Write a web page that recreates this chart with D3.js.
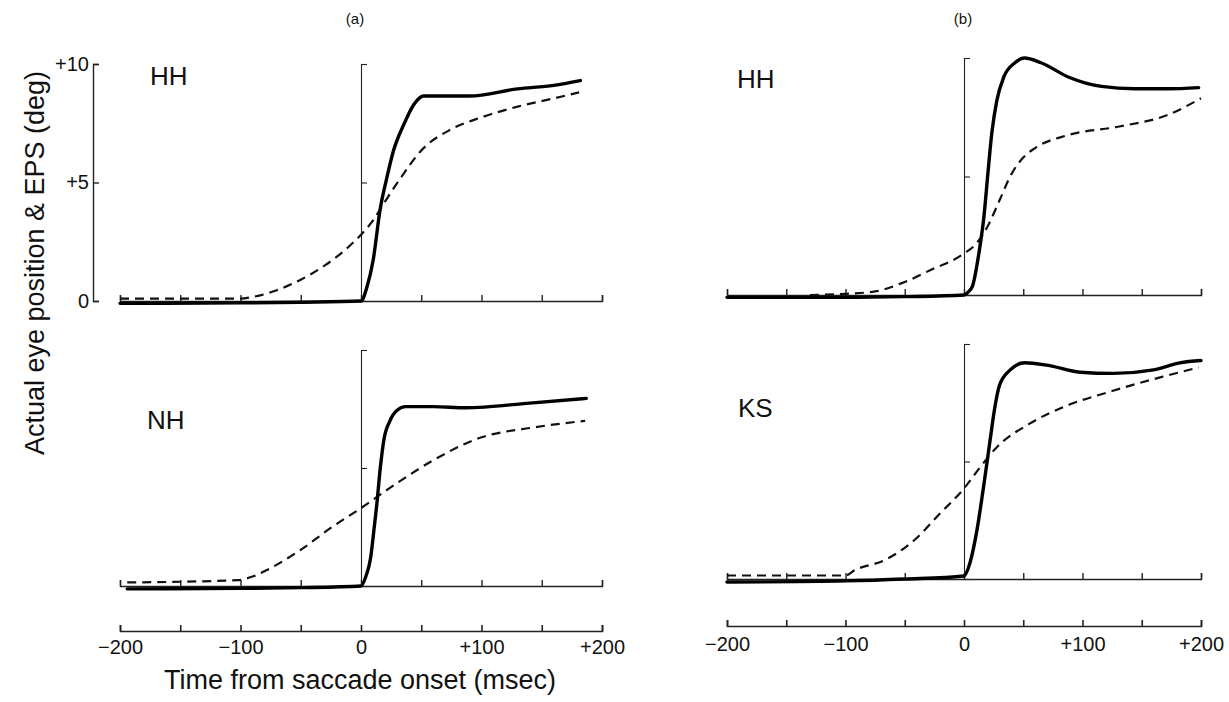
<!DOCTYPE html>
<html>
<head>
<meta charset="utf-8">
<script src="https://cdn.jsdelivr.net/npm/d3@7"></script>
<style>
  body { margin: 0; background: #fff; }
  text { font-family: "Liberation Sans", Arial, Helvetica, sans-serif; fill: #111; }
</style>
</head>
<body>
<div id="chart"></div>
<script>
// time (msec) / position (deg) pairs
var aHHSolid = [[-200,-0.1],[-100,-0.08],[-50,-0.05],[0,0],[5,0.6],[10,1.7],[16,3.9],[21,5.1],[27,6.35],[36,7.5],[44,8.3],[52,8.65],[70,8.65],[90,8.65],[130,8.95],[160,9.1],[182,9.3]];
var aHHDash  = [[-200,0.1],[-100,0.1],[-90,0.17],[-70,0.45],[-50,0.9],[-30,1.5],[-10,2.3],[0,2.8],[10,3.4],[20,4.2],[33,5.2],[50,6.35],[75,7.25],[100,7.75],[130,8.2],[160,8.55],[181,8.8]];
var aNHSolid = [[-194,-0.12],[-100,-0.1],[-50,-0.07],[0,0],[4,0.4],[8,1.2],[11,2.5],[13,3.4],[16,5.0],[19,6.2],[24,7.0],[30,7.45],[37,7.6],[60,7.6],[87,7.55],[140,7.75],[187,7.95]];
var aNHDash  = [[-194,0.15],[-102,0.25],[-90,0.4],[-78,0.68],[-51,1.5],[-24,2.5],[0,3.3],[31,4.4],[59,5.3],[100,6.3],[141,6.7],[186,7.0]];
var bHHSolid = [[-200,-0.1],[-100,-0.1],[-50,-0.07],[0,0],[3,0.1],[7,0.35],[12.6,1.77],[16.8,3.3],[20.2,5.15],[23.5,6.85],[27.7,8.2],[33.6,9.2],[43,9.8],[51,10.0],[65,9.8],[88,9.2],[116,8.8],[144,8.7],[172,8.7],[198,8.75]];
var bHHDash  = [[-130,0],[-100,0.05],[-75,0.15],[-50,0.55],[-24,1.15],[-10,1.45],[0,1.75],[10,2.15],[20,2.9],[30,4.0],[40,5.1],[50,5.8],[60,6.2],[88,6.75],[130,7.1],[172,7.6],[200,8.3]];
var bKSSolid = [[-200,-0.13],[-100,-0.08],[-50,0],[0,0.13],[5,0.68],[11,2.1],[17,4.1],[22,5.9],[26,7.3],[30,8.25],[39,8.9],[51,9.2],[70,9.1],[98,8.8],[126,8.75],[160,8.9],[182,9.2],[200,9.3]];
var bKSDash  = [[-200,0.15],[-100,0.15],[-92,0.38],[-67,0.8],[-42,1.65],[-20,2.8],[0,3.85],[13.5,4.75],[27.5,5.6],[55,6.6],[83,7.3],[125,8.0],[167,8.6],[198,9.0]];

var timeTicks = [-200,-150,-100,-50,0,50,100,150,200];
var degTicks = [0,5,10];
var subjects = ["HH","NH","HH","KS"];
var columnTitles = ["(a)","(b)"];

var width = 1229, height = 702;

var svg = d3.select("#chart").append("svg")
    .attr("width", width)
    .attr("height", height);

svg.append("rect").attr("width", width).attr("height", height).attr("fill", "#fff");

var xA = d3.scaleLinear().domain([-200, 200]).range([120, 602]);
var xB = d3.scaleLinear().domain([-200, 200]).range([727, 1201]);

var panels = [
  {x: xA, y: d3.scaleLinear().domain([0, 10]).range([301, 64]), solid: aHHSolid, dash: aHHDash, name: subjects[0], lx: 150, ly: 85},
  {x: xA, y: d3.scaleLinear().domain([0, 10]).range([586, 350]), solid: aNHSolid, dash: aNHDash, name: subjects[1], lx: 147, ly: 429},
  {x: xB, y: d3.scaleLinear().domain([0, 10]).range([295, 58]), solid: bHHSolid, dash: bHHDash, name: subjects[2], lx: 737, ly: 88},
  {x: xB, y: d3.scaleLinear().domain([0, 10]).range([579, 344]), solid: bKSSolid, dash: bKSDash, name: subjects[3], lx: 738, ly: 417}
];

function fmtTime(t) {
  if (t === 0) return "0";
  if (t % 100 !== 0) return "";
  return (t > 0 ? "+" : "\u2212") + Math.abs(t);
}

function styleAxis(g, w) {
  g.selectAll("path, line").attr("stroke", "#222").attr("stroke-width", w);
  g.selectAll("text").remove();
}

panels.forEach(function(p) {
  var g = svg.append("g");

  // baseline with upward ticks
  g.append("g")
    .attr("transform", "translate(0," + p.y(0) + ")")
    .call(d3.axisTop(p.x).tickValues(timeTicks).tickSize(6).tickSizeOuter(6).tickFormat(""))
    .call(styleAxis, 1.4);

  // vertical marker at saccade onset
  g.append("g")
    .attr("transform", "translate(" + p.x(0) + ",0)")
    .call(d3.axisRight(p.y).tickValues(degTicks).tickSize(6).tickSizeOuter(6).tickFormat(""))
    .call(styleAxis, 1.1);

  var line = d3.line()
    .x(function(d) { return p.x(d[0]); })
    .y(function(d) { return p.y(d[1]); })
    .curve(d3.curveMonotoneX);

  g.append("path")
    .attr("d", line(p.dash))
    .attr("fill", "none")
    .attr("stroke", "#111")
    .attr("stroke-width", 2.2)
    .attr("stroke-dasharray", "9,6");

  g.append("path")
    .attr("d", line(p.solid))
    .attr("fill", "none")
    .attr("stroke", "#000")
    .attr("stroke-width", 3.4)
    .attr("stroke-linecap", "round");

  g.append("text")
    .attr("x", p.lx)
    .attr("y", p.ly)
    .attr("font-size", 26)
    .text(p.name);
});

// left deg axis on panel (a) top
var yLeft = panels[0].y;
var left = svg.append("g")
  .attr("transform", "translate(93,0)")
  .call(d3.axisLeft(yLeft).tickValues(degTicks).tickSize(-6).tickSizeOuter(-6).tickPadding(4)
    .tickFormat(function(d) { return d === 0 ? "0" : "+" + d; }));
left.selectAll("path, line").attr("stroke", "#222").attr("stroke-width", 1.4);
left.selectAll("text").attr("font-size", 20).attr("fill", "#111")
  .attr("font-family", "Liberation Sans, Arial, sans-serif");

// shared time axes at the bottom
[[xA, 631, 9], [xB, 626, 11]].forEach(function(a) {
  var ax = svg.append("g")
    .attr("transform", "translate(0," + a[1] + ")")
    .call(d3.axisBottom(a[0]).tickValues(timeTicks).tickSize(-6).tickSizeOuter(-6).tickPadding(a[2]).tickFormat(fmtTime));
  ax.selectAll("path, line").attr("stroke", "#222").attr("stroke-width", 1.6);
  ax.selectAll("text").attr("font-size", 20).attr("fill", "#111")
    .attr("font-family", "Liberation Sans, Arial, sans-serif");
});

svg.append("text")
  .attr("x", 360)
  .attr("y", 689)
  .attr("text-anchor", "middle")
  .attr("font-size", 27)
  .text("Time from saccade onset (msec)");

svg.append("text")
  .attr("transform", "translate(44,263) rotate(-90)")
  .attr("text-anchor", "middle")
  .attr("font-size", 27)
  .text("Actual eye position & EPS (deg)");

svg.append("text").attr("x", 355).attr("y", 24).attr("text-anchor", "middle").attr("font-size", 15).text(columnTitles[0]);
svg.append("text").attr("x", 963).attr("y", 24).attr("text-anchor", "middle").attr("font-size", 15).text(columnTitles[1]);
</script>
</body>
</html>
